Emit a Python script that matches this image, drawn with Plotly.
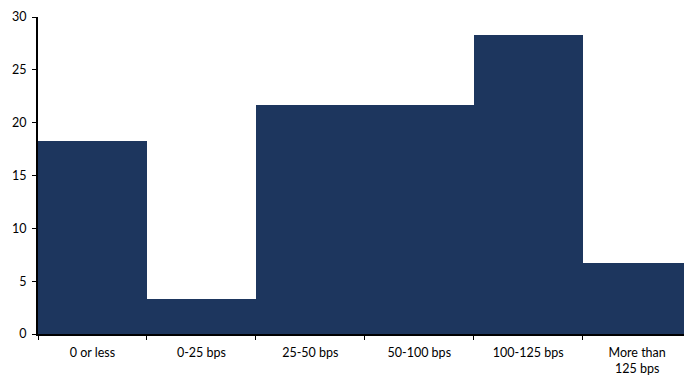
import plotly.graph_objects as go

# Distribution of responses by rate bucket (% of respondents)
categories = ["0 or less", "0-25 bps", "25-50 bps", "50-100 bps", "100-125 bps", "More than<br>125 bps"]
shares = [18.3, 3.3, 21.7, 21.7, 28.3, 6.7]
y_ticks = [0, 5, 10, 15, 20, 25, 30]

NAVY = "#1D365E"

fig = go.Figure(
    go.Bar(
        x=categories,
        y=shares,
        marker=dict(color=NAVY, line=dict(width=0)),
        hoverinfo="x+y",
    )
)

fig.update_layout(
    width=684,
    height=379,
    margin=dict(l=38, r=0, t=17, b=45),
    paper_bgcolor="white",
    plot_bgcolor="white",
    bargap=0,
    showlegend=False,
    font=dict(family="Lato, 'Open Sans', sans-serif", size=12, color="#000000"),
)

fig.update_xaxes(
    type="category",
    range=[-0.5, 5.43],
    showline=True,
    linecolor="#000000",
    linewidth=2,
    ticks="outside",
    tickson="boundaries",
    ticklen=4,
    tickcolor="#000000",
    tickwidth=1,
    showgrid=False,
    zeroline=False,
    tickfont=dict(size=12.5),
    ticklabelstandoff=6,
)

fig.update_yaxes(
    range=[0, 30],
    tickvals=y_ticks,
    showline=True,
    linecolor="#000000",
    linewidth=2,
    ticks="outside",
    ticklen=4,
    tickcolor="#000000",
    tickwidth=1,
    showgrid=False,
    zeroline=False,
    tickfont=dict(size=12.5),
    ticklabelstandoff=3,
)

fig.write_html("out.html")
